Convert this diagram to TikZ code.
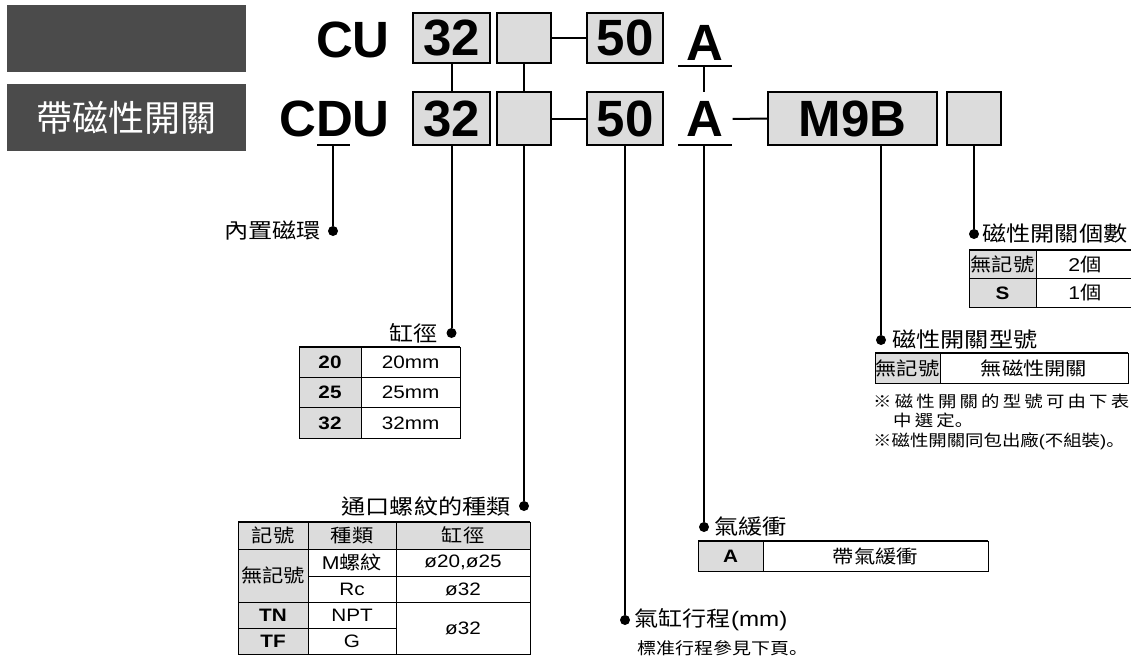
\documentclass[tikz,border=0pt]{standalone}
\usepackage{fontspec}
\usetikzlibrary{positioning}

\newfontfamily\fuentelat{Liberation Sans}
\newfontfamily\fuentelatw[FakeStretch=1.15]{Liberation Sans}
\newfontfamily\fuentecjk{Noto Sans CJK TC}
\newfontfamily\fuentecjkw[FakeStretch=1.15]{Noto Sans CJK TC}
\newfontfamily\fuentenota[FakeStretch=1.15,LetterSpace=20]{Noto Sans CJK TC}
\newfontfamily\fuentesc[FakeStretch=1.15]{Noto Sans CJK SC}

\definecolor{cajagris}{HTML}{DCDCDC}
\definecolor{fondooscuro}{HTML}{4B4B4B}

% Texto latino dentro de una etiqueta china
\newcommand{\lat}[1]{{\fuentelatw #1}}
% Punto final abajo a la izquierda
\newcommand{\finfrase}{{\fuentesc 。}}

\begin{document}
\begin{tikzpicture}[
    x=1pt, y=-1pt,
    % Estilo para las cajas del código de pedido
    caja/.style={draw, line width=2pt, fill=cajagris, inner sep=0pt,
        font=\fuentelat\bfseries\fontsize{51}{51}\selectfont},
    codigo/.style={inner sep=0pt, font=\fuentelat\bfseries\fontsize{51}{51}\selectfont},
    % Estilo para los rótulos oscuros de la izquierda
    rotulo/.style={fill=fondooscuro, minimum width=239pt, minimum height=67pt, inner sep=0pt,
        text=white, font=\fuentecjk\fontsize{36}{36}\selectfont},
    % Puntos y líneas guía
    punto/.style={circle, fill=black, inner sep=0pt, minimum size=10pt},
    guia/.style={line width=2pt},
    etiqueta/.style={inner sep=0pt, font=\fuentecjkw\fontsize{21}{21}\selectfont},
    nota/.style={inner sep=0pt, anchor=west, font=\fuentecjkw\fontsize{16}{16}\selectfont},
    % Estilo para las tablas
    celda/.style={inner sep=0pt, font=\fuentecjkw\fontsize{18.5}{18.5}\selectfont},
    celdalat/.style={inner sep=0pt, font=\fuentelatw\fontsize{18}{18}\selectfont},
    celdacod/.style={inner sep=0pt, font=\fuentelatw\bfseries\fontsize{18}{18}\selectfont},
    rejilla/.style={line width=1pt},
    borde/.style={line width=2.2pt}
]
    \path[use as bounding box, fill=white] (0,0) rectangle (1131,661);

    % ==========================================
    % RÓTULOS
    % ==========================================
    \node[rotulo] (rotCU) at (126.5,38.5) {};
    \node[rotulo] (rotCDU) at (126.5,117.5) {帶磁性開關};

    % ==========================================
    % FILA SUPERIOR: CU
    % ==========================================
    \node[codigo, anchor=east] (serieCU) at (390,40) {CU};
    \node[caja, minimum width=77pt, minimum height=50pt] (s32) at (451.5,38) {32};
    \node[caja, minimum width=54pt, minimum height=50pt] (sVacia) at (524,38) {};
    \node[caja, minimum width=76pt, minimum height=50pt] (s50) at (625,38) {50};
    \node[codigo] (sA) at (705,43) {A};
    \coordinate (sAi) at (678,66);
    \coordinate (sAd) at (732,66);

    % ==========================================
    % FILA INFERIOR: CDU
    % ==========================================
    \node[codigo, anchor=east] (serieCDU) at (390,118.5) {CDU};
    \node[caja, minimum width=77pt, minimum height=53pt] (i32) at (451.5,118.5) {32};
    \node[caja, minimum width=54pt, minimum height=53pt] (iVacia) at (524,118.5) {};
    \node[caja, minimum width=76pt, minimum height=53pt] (i50) at (625,118.5) {50};
    \node[codigo] (iA) at (705,119) {A};
    \node[caja, minimum width=169pt, minimum height=53pt] (iM9B) at (852.5,118.5) {M9B};
    \node[caja, minimum width=54pt, minimum height=53pt] (iVaciaSW) at (974,118.5) {};
    \coordinate (iAi) at (678,145);
    \coordinate (iAd) at (732,145);
    \coordinate (iAarriba) at (704,92);
    \coordinate (imanI) at (317,145);
    \coordinate (imanD) at (350,145);

    % Guiones y subrayados
    \draw[guia] (sVacia.east) -- (s50.west);
    \draw[guia] (iVacia.east) -- (i50.west);
    \draw[guia] ([xshift=9pt]iA.east) -- (iM9B.west);
    \draw[guia] (sAi) -- (sAd);
    \draw[guia] (iAi) -- (iAd);
    \draw[guia] (imanI) -- (imanD);

    % Enlaces entre las dos filas
    \draw[guia] (s32) -- (i32);
    \draw[guia] (sVacia) -- (iVacia);
    \draw[guia] (iAarriba |- sAi) -- (iAarriba);

    % ==========================================
    % PUNTOS Y LÍNEAS GUÍA
    % ==========================================
    \node[punto] (pIman) at (333,231) {};
    \node[punto] (pDiam) at (451.5,333) {};
    \node[punto] (pRosca) at (524,506) {};
    \node[punto] (pCarrera) at (625,620) {};
    \node[punto] (pCojin) at (704,527) {};
    \node[punto] (pTipo) at (881,340) {};
    \node[punto] (pCant) at (974,234) {};

    \draw[guia] (pIman |- imanI) -- (pIman);
    \draw[guia] (i32) -- (pDiam);
    \draw[guia] (iVacia) -- (pRosca);
    \draw[guia] (i50) -- (pCarrera);
    \draw[guia] (pCojin |- iAi) -- (pCojin);
    \draw[guia] (pTipo |- iM9B.south) -- (pTipo);
    \draw[guia] (iVaciaSW) -- (pCant);

    % Etiquetas
    \node[etiqueta, left=7pt of pIman] (lIman) {內置磁環};
    \node[etiqueta, left=8pt of pDiam] (lDiam) {缸徑};
    \node[etiqueta, left=8pt of pRosca] (lRosca) {通口螺紋的種類};
    \node[etiqueta, right=4pt of pCarrera] (lCarrera) {氣缸行程\lat{(mm)}};
    \node[nota, font=\fuentecjkw\fontsize{16.5}{16.5}\selectfont] (lCarreraNota) at (637,648) {標准行程參見下頁\finfrase};
    \node[etiqueta, right=5pt of pCojin] (lCojin) {氣緩衝};
    \node[etiqueta, right=6pt of pTipo] (lTipo) {磁性開關型號};
    \node[etiqueta, right=3pt of pCant] (lCant) {磁性開關個數};

    % ==========================================
    % TABLA: 缸徑
    % ==========================================
    \fill[cajagris] (299,347) rectangle (361,438);
    \draw[rejilla] (299,347) rectangle (460,438);
    \draw[rejilla] (361,347) -- (361,438);
    \foreach \y in {377.3,407.7} \draw[rejilla] (299,\y) -- (460,\y);
    \draw[borde] (299,347) -- (460,347);
    \foreach \d [count=\i] in {20,25,32} {
        \node[celdacod] (dc\i) at (330,{347+30.33*\i-15.17}) {\d};
        \node[celdalat] (dv\i) at (410.5,{347+30.33*\i-15.17}) {\d mm};
    }

    % ==========================================
    % TABLA: 通口螺紋的種類
    % ==========================================
    \fill[cajagris] (238,522) rectangle (530,549);
    \fill[cajagris] (238,549) rectangle (308,654);
    \draw[rejilla] (238,522) rectangle (530,654);
    \draw[rejilla] (308,522) -- (308,654);
    \draw[rejilla] (396,522) -- (396,654);
    \draw[rejilla] (238,549) -- (530,549);
    \draw[rejilla] (308,576) -- (530,576);
    \draw[rejilla] (238,602) -- (530,602);
    \draw[rejilla] (238,628) -- (396,628);
    \draw[borde] (238,522) -- (530,522);

    \node[celda] (rH1) at (273,535.5) {記號};
    \node[celda] (rH2) at (352,535.5) {種類};
    \node[celda] (rH3) at (463,535.5) {缸徑};
    \node[celda] (rSin) at (273,575.5) {無記號};
    \node[celda] (rM) at (352,562.5) {\lat{M}螺紋};
    \node[celdalat] (rM2) at (463,562.5) {ø20,ø25};
    \node[celdalat] (rRc) at (352,589) {Rc};
    \node[celdalat] (rRc2) at (463,589) {ø32};
    \node[celdacod] (rTN) at (273,615) {TN};
    \node[celdalat] (rNPT) at (352,615) {NPT};
    \node[celdacod] (rTF) at (273,641) {TF};
    \node[celdalat] (rG) at (352,641) {G};
    \node[celdalat] (rT2) at (463,628) {ø32};

    % ==========================================
    % TABLA: 磁性開關個數
    % ==========================================
    \fill[cajagris] (969,250) rectangle (1036,307);
    \draw[rejilla] (969,250) rectangle (1140,307);
    \draw[rejilla] (1036,250) -- (1036,307);
    \draw[rejilla] (969,278.5) -- (1140,278.5);
    \draw[borde] (969,250) -- (1140,250);
    \node[celda] (cSin) at (1002.5,264.5) {無記號};
    \node[celda] (cSin2) at (1085,264.5) {\lat{2}個};
    \node[celdacod] (cS) at (1002.5,293) {S};
    \node[celda] (cS2) at (1085,293) {\lat{1}個};

    % ==========================================
    % TABLA: 磁性開關型號 y notas
    % ==========================================
    \fill[cajagris] (875,353) rectangle (940,383);
    \draw[rejilla] (875,353) rectangle (1128,383);
    \draw[rejilla] (940,353) -- (940,383);
    \draw[borde] (875,353) -- (1128,353);
    \node[celda] (tSin) at (907.5,368) {無記號};
    \node[celda] (tSin2) at (1034,368) {無磁性開關};

    \node[nota, font=\fuentenota\fontsize{16}{16}\selectfont] (nota1) at (873,401) {※磁性開關的型號可由下表};
    \node[nota, font=\fuentenota\fontsize{16}{16}\selectfont] (nota1b) at (893,420) {中選定\finfrase};
    \node[nota] (nota2) at (873,441) {※磁性開關同包出廠\lat{(}不組裝\lat{)}\finfrase};

    % ==========================================
    % TABLA: 氣緩衝
    % ==========================================
    \fill[cajagris] (698,541) rectangle (763,571);
    \draw[rejilla] (698,541) rectangle (988,571);
    \draw[rejilla] (763,541) -- (763,571);
    \draw[borde] (698,541) -- (988,541);
    \node[celdacod] (aA) at (730.5,556) {A};
    \node[celda] (aCon) at (875.5,556) {帶氣緩衝};

\end{tikzpicture}
\end{document}
